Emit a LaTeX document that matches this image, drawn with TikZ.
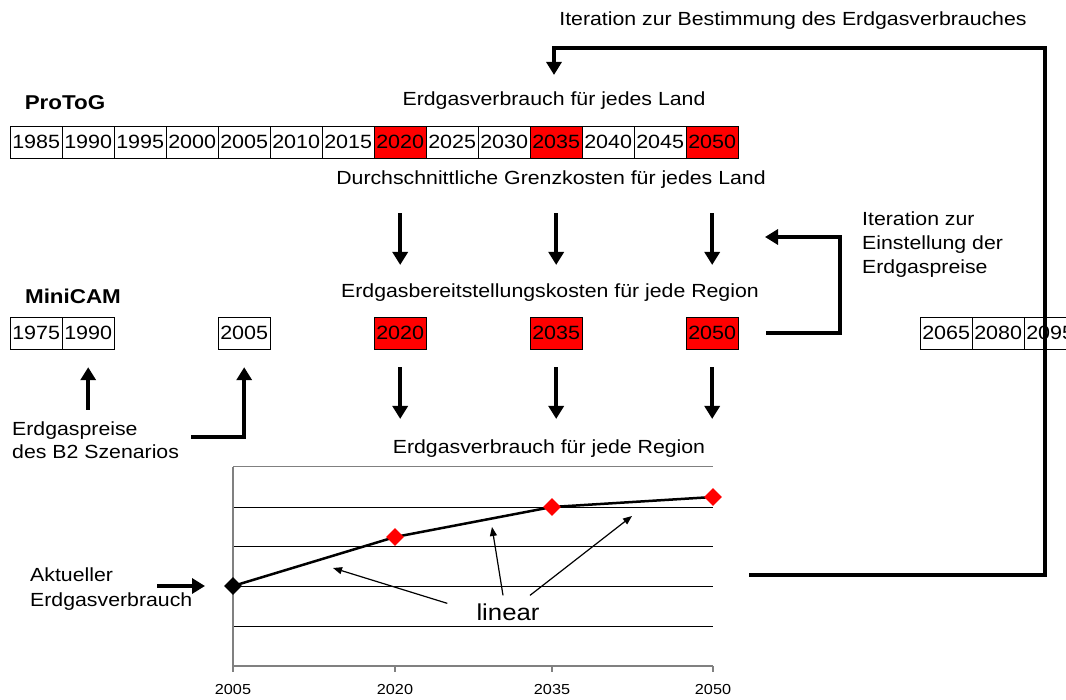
\documentclass[tikz,border=0pt]{standalone}
\usepackage{fontspec}
\setmainfont{Liberation Sans}[FakeStretch=1.12]
\usepackage{xcolor}
\definecolor{myred}{RGB}{255,0,0}
\definecolor{gridgray}{RGB}{128,128,128}
\usepackage{tikz}
\usetikzlibrary{arrows.meta}
\usetikzlibrary{positioning}
\usetikzlibrary{shapes.geometric}
\newcommand{\widthyear}{52pt}
\tikzset{
    common/.style={anchor=west, draw, rectangle, minimum height=32pt, inner sep=0pt, font=\fontsize{19.2}{23}\selectfont},
    year/.style={common, minimum width=\widthyear},
    hot/.style={year, fill=myred},
    txt/.style={inner sep=0pt, font=\fontsize{19}{24}\selectfont},
    model/.style={inner sep=0pt, font=\bfseries\fontsize{20}{24}\selectfont},
    axislabel/.style={inner sep=0pt, font=\fontsize{14.5}{18}\selectfont},
    bigarrow/.style={line width=4pt, -{Triangle[length=13pt,width=15pt]}},
    thinarrow/.style={line width=1.2pt, -{Triangle[length=9pt,width=7pt]}},
    gridline/.style={line width=1pt},
    chartline/.style={line width=2.5pt},
    datapoint/.style={diamond, draw=none, fill=myred, minimum size=19pt, inner sep=0pt},
    startpoint/.style={datapoint, fill=black}
}

\begin{document}
\begin{tikzpicture}[x=1pt, y=-1pt]
        \useasboundingbox (0,0) rectangle (1066,700);

        % ProToG
        \node[model] (protog) at (65,103) {ProToG};
        \node[txt] (landtxt) at (554,101) {Erdgasverbrauch für jedes Land};
        \path
            (10,142) node[year] (P1985) {1985}
            ++(0:\widthyear) node[year] (P1990) {1990}
            ++(0:\widthyear) node[year] (P1995) {1995}
            ++(0:\widthyear) node[year] (P2000) {2000}
            ++(0:\widthyear) node[year] (P2005) {2005}
            ++(0:\widthyear) node[year] (P2010) {2010}
            ++(0:\widthyear) node[year] (P2015) {2015}
            ++(0:\widthyear) node[hot] (P2020) {2020}
            ++(0:\widthyear) node[year] (P2025) {2025}
            ++(0:\widthyear) node[year] (P2030) {2030}
            ++(0:\widthyear) node[hot] (P2035) {2035}
            ++(0:\widthyear) node[year] (P2040) {2040}
            ++(0:\widthyear) node[year] (P2045) {2045}
            ++(0:\widthyear) node[hot] (P2050) {2050};
        \node[txt] (grenztxt) at (551,180) {Durchschnittliche Grenzkosten für jedes Land};

        % MiniCAM
        \node[model] (minicam) at (73,296) {MiniCAM};
        \node[txt] (bereittxt) at (550,293) {Erdgasbereitstellungskosten für jede Region};
        \path
            (10,333) node[year] (M1975) {1975}
            ++(0:\widthyear) node[year] (M1990) {1990}
            ++(0:3 * \widthyear) node[year] (M2005) {2005}
            ++(0:3 * \widthyear) node[hot] (M2020) {2020}
            ++(0:3 * \widthyear) node[hot] (M2035) {2035}
            ++(0:3 * \widthyear) node[hot] (M2050) {2050}
            ++(0:4.5 * \widthyear) node[year] (M2065) {2065}
            ++(0:\widthyear) node[year] (M2080) {2080}
            ++(0:\widthyear) node[year] (M2095) {2095};
        \node[txt] (regiontxt) at (549,449) {Erdgasverbrauch für jede Region};

        \node[txt, anchor=north, align=center] (toptxt) at (793,12) {Iteration zur Bestimmung des Erdgasverbrauches};
        \node[txt, anchor=north west, align=left] (einsttxt) at (862,212) {Iteration zur\\Einstellung der\\Erdgaspreise};
        \node[txt, anchor=north west, align=left, font=\fontsize{19}{23}\selectfont] (b2txt) at (12,422) {Erdgaspreise\\des B2 Szenarios};
        \node[txt, anchor=north west, align=left, font=\fontsize{19}{25}\selectfont] (akttxt) at (30,568) {Aktueller\\Erdgasverbrauch};

        \coordinate (b2start) at (191,437);
        \coordinate (aktstart) at (157,586);
        \coordinate (loopstart) at (749,575);
        \coordinate (einstend) at (765,237);

        \path[bigarrow]
          ([yshift=-24pt]grenztxt.south -| M2020) edge ([yshift=19pt]bereittxt.north -| M2020)
          ([yshift=-24pt]grenztxt.south -| M2035) edge ([yshift=19pt]bereittxt.north -| M2035)
          ([yshift=-24pt]grenztxt.south -| M2050) edge ([yshift=19pt]bereittxt.north -| M2050)
          ([yshift=-18pt]M2020.south) edge ([yshift=21pt]regiontxt.north -| M2020)
          ([yshift=-18pt]M2035.south) edge ([yshift=21pt]regiontxt.north -| M2035)
          ([yshift=-18pt]M2050.south) edge ([yshift=21pt]regiontxt.north -| M2050)
          ([yshift=12pt]b2txt.north -| M1990) edge ([yshift=-18pt]M1990.south);

        \draw[bigarrow] (b2start) -| ([yshift=-18pt]M2005.south);
        \draw[bigarrow] ([xshift=28pt]M2050.east) -| (840,237) -- (einstend);
        \draw[bigarrow] (loopstart) -| (1045,48) -| ([yshift=17pt]landtxt.north);

        % chart
        \draw[gridgray, gridline] (233,467) -- (713,467);
        \draw[gridline]
          (233,507) -- (713,507)
          (233,546) -- (713,546)
          (233,586) -- (713,586)
          (233,626) -- (713,626);
        \draw[gridgray, line width=2pt] (233,666) -- (713,666);
        \draw[gridgray, line width=1.5pt]
          (233,467) -- (233,672)
          (395,666) -- (395,672)
          (552,666) -- (552,672)
          (713,666) -- (713,672);

        \node[axislabel] (yl2005) at (233,690) {2005};
        \node[axislabel] (yl2020) at (395,690) {2020};
        \node[axislabel] (yl2035) at (552,690) {2035};
        \node[axislabel] (yl2050) at (713,690) {2050};

        \draw[chartline]
          (233,586) node[startpoint] (d2005) {}
          -- (395,537) node[datapoint] (d2020) {}
          -- (552,507) node[datapoint] (d2035) {}
          -- (713,497) node[datapoint] (d2050) {};

        \draw[bigarrow] (aktstart) -- ([xshift=-28pt]d2005.center);

        \node[inner sep=0pt, font=\fontsize{23}{28}\selectfont] (lintxt) at (508,612) {linear};
        \coordinate (seg1) at (333,568);
        \coordinate (seg2) at (492,527);
        \coordinate (seg3) at (632,516);
        \path[thinarrow]
          ([xshift=-29pt]lintxt.north west) edge (seg1)
          ([xshift=-5pt,yshift=8pt]lintxt.north) edge (seg2)
          ([xshift=22pt,yshift=8pt]lintxt.north) edge (seg3);
\end{tikzpicture}
\end{document}
